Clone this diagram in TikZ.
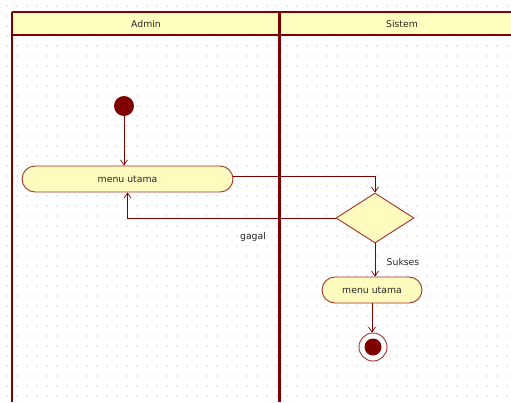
\documentclass[tikz,border=0pt]{standalone}
\usepackage{fontspec}
\setmainfont{DejaVu Sans}
\usetikzlibrary{shapes.geometric,shapes.misc,arrows.meta}
\definecolor{umlred}{RGB}{128,0,0}
\definecolor{umledge}{RGB}{160,50,50}
\definecolor{umlfill}{RGB}{255,250,190}
\definecolor{headfill}{RGB}{255,255,190}
\definecolor{griddot}{RGB}{175,175,175}
\tikzset{
  lbl/.style={font=\fontsize{9.3}{11}\selectfont, text=black!85},
  action/.style={rounded rectangle, draw=umledge, line width=0.9pt, fill=umlfill,
    minimum height=26pt, inner sep=0pt, lbl},
  decision/.style={diamond, draw=umledge, line width=0.9pt, fill=umlfill,
    minimum width=78pt, minimum height=50pt, inner sep=0pt, aspect=1.56},
  flow/.style={draw=umlred, line width=0.7pt, -{Straight Barb[length=5pt,width=7pt]}},
  lane/.style={draw=umlred},
}
\begin{document}
\begin{tikzpicture}[x=1pt,y=-1pt]
\useasboundingbox (0,0) rectangle (511,402);
\fill[white] (0,0) rectangle (511,402);
% dotted background grid
\foreach \i in {0,...,50}{
  \foreach \j in {0,...,40}{
    \fill[griddot] (7+10*\i,6+10*\j) circle (0.6pt);
  }
}
% swimlane headers
\fill[headfill] (12,12) rectangle (525,35);
\node[lbl] (hadmin) at (146,24) {Admin};
\node[lbl] (hsistem) at (402,24) {Sistem};
% swimlane frame
\draw[lane, line width=1.6pt] (12,12) -- (525,12);
\draw[lane, line width=1.4pt] (12,35) -- (525,35);
\draw[lane, line width=1.6pt] (12,12) -- (12,402);
\draw[lane, line width=3pt] (279.5,12) -- (279.5,402);
% nodes
\node[circle, fill=umlred, minimum size=20pt, inner sep=0pt] (start) at (124,106) {};
\node[action, minimum width=211pt] (menu1) at (127.5,179) {menu utama};
\node[decision] (cek) at (375,218) {};
\node[action, minimum width=100pt] (menu2) at (372,290) {menu utama};
\node[circle, draw=umledge, line width=0.9pt, fill=white, minimum size=28pt, inner sep=0pt] (end) at (373,347) {};
\fill[umlred] (end.center) circle (8.5pt);
% flows
\coordinate (m1out) at ([yshift=3pt]menu1.east);
\draw[flow] (start) -- (start |- menu1.north);
\draw[flow] (m1out) -- (cek.north |- m1out) -- (cek.north);
\draw[flow] (cek.west) -- (menu1.south |- cek.west) -- (menu1.south);
\node[lbl] (gagal) at (253,237) {gagal};
\draw[flow] (cek.south) -- (cek.south |- menu2.north);
\node[lbl] (sukses) at (403,262) {Sukses};
\draw[flow] (menu2.south) -- (menu2.south |- end.north);
\end{tikzpicture}
\end{document}
